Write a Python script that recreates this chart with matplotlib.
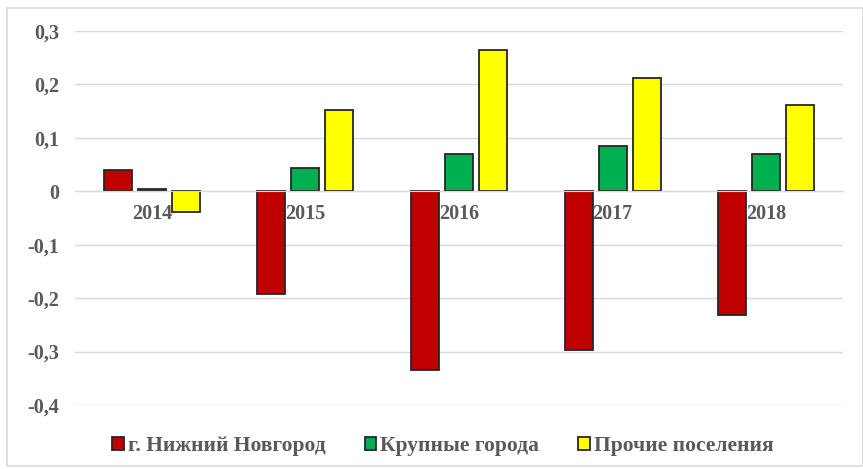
import numpy as np
from matplotlib import pyplot as plt
from matplotlib.patches import Rectangle

#%% # Data

years = ['2014', '2015', '2016', '2017', '2018']
nn = [0.039, -0.193, -0.334, -0.297, -0.231]        # г. Нижний Новгород
big = [0.005, 0.043, 0.069, 0.084, 0.069]           # Крупные города
other = [-0.039, 0.152, 0.265, 0.212, 0.161]        # Прочие поселения
labels = ['г. Нижний Новгород', 'Крупные города', 'Прочие поселения']
colours = ['#C00000', '#00B050', '#FFFF00']
yticks = [-0.4, -0.3, -0.2, -0.1, 0, 0.1, 0.2, 0.3]

#%% # Plot

plt.rcParams['font.family'] = ['Liberation Serif', 'DejaVu Serif']
plt.rcParams['font.weight'] = 'bold'
txtcol = '#595959'

fig = plt.figure(figsize=(8.63, 4.69), dpi=100)
ax = fig.add_axes([75 / 863, 64 / 469, 768 / 863, 374 / 469])

x = np.arange(len(years))
width = 0.182
offs = 0.2215
for i, (vals, lab, col) in enumerate(zip([nn, big, other], labels, colours)):
    ax.bar(x + (i - 1) * offs, vals, width, color=col, edgecolor='#262626',
           linewidth=1.3, label=lab, zorder=2)

ax.set_xlim(-0.5, len(years) - 0.5)
ax.set_ylim(-0.4, 0.3)
ax.set_yticks(yticks)
ax.set_yticklabels([('%g' % t).replace('.', ',') for t in yticks])
ax.set_xticks(x)
ax.set_xticklabels(years)

ax.set_axisbelow(True)
ax.grid(axis='y', color='#D9D9D9', linewidth=1)
for s in ['top', 'right', 'left']:
    ax.spines[s].set_visible(False)
ax.spines['bottom'].set_position(('data', 0))
ax.spines['bottom'].set_color('#D9D9D9')
ax.tick_params(axis='both', length=0, labelsize=14.5, colors=txtcol)
ax.tick_params(axis='x', pad=9.5)
ax.tick_params(axis='y', pad=11.5)

leg = fig.legend(loc='center', bbox_to_anchor=(443 / 863, (469 - 446) / 469), ncol=3,
                 frameon=False, prop={'family': 'Liberation Serif', 'weight': 'bold', 'size': 15.5},
                 handlelength=0.53, handleheight=0.53, handletextpad=0.2, columnspacing=1.8)
for t in leg.get_texts():
    t.set_color(txtcol)

# outer chart frame
fig.patches.append(Rectangle((7 / 863, 3 / 469), 856 / 863, 458 / 469, transform=fig.transFigure,
                             fill=False, edgecolor='#D9D9D9', linewidth=1.2))

plt.savefig('out.png')
